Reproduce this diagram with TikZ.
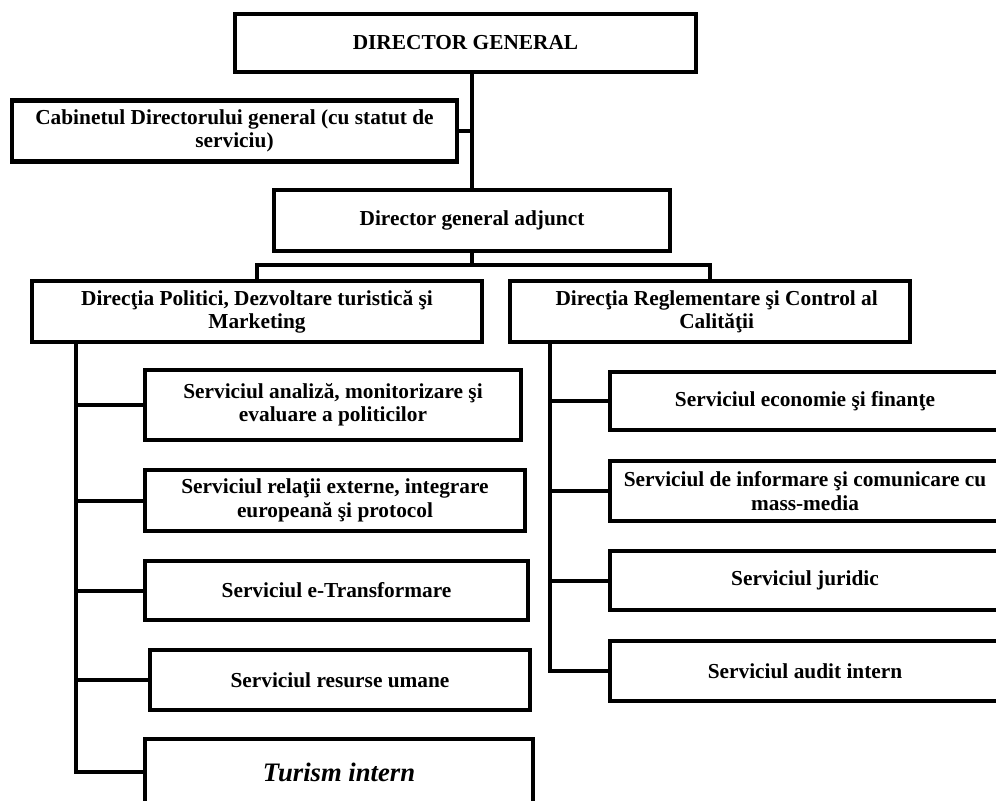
\documentclass[tikz,border=0pt]{standalone}
\usepackage{fontspec}
\setmainfont{Liberation Serif}
\begin{document}
\begin{tikzpicture}[
  x=0.75pt, y=-0.75pt,
  orgbox/.style={draw, line width=3.4pt, fill=white, align=center,
    font=\fontsize{16}{17.5}\selectfont\bfseries, inner sep=0pt},
  boxsize/.style 2 args={minimum width=#1*0.75pt, minimum height=#2*0.75pt},
  link/.style={line width=3pt}
]
\useasboundingbox (0,0) rectangle (996,800);
\fill[white] (0,0) rectangle (996,800);
\clip (0,0) rectangle (996,800);

% top management
\node[orgbox, boxsize={461}{58}] (dg) at (465.5,43) {DIRECTOR GENERAL};
\node[orgbox, boxsize={445}{61}] (cab) at (234.5,131)
  {Cabinetul Directorului general (cu statut de\\serviciu)};
\node[orgbox, boxsize={396}{61}] (adj) at (472,220.5) {Director general adjunct};

% directorates
\node[orgbox, boxsize={450}{61}] (dirL) at (257,311.5)
  {Direcţia Politici, Dezvoltare turistică şi\\Marketing};
\node[orgbox, boxsize={400}{61}] (dirR) at (710,311.5)
  {\hspace*{10pt}Direcţia Reglementare şi Control al\\\hspace*{10pt}Calităţii};

% services under the left directorate
\node[orgbox, boxsize={376}{70}] (s1) at (333,405)
  {Serviciul analiză, monitorizare şi\\evaluare a politicilor};
\node[orgbox, boxsize={380}{61}] (s2) at (335,500.5)
  {Serviciul relaţii externe, integrare\\europeană şi protocol};
\node[orgbox, boxsize={383}{59}] (s3) at (336.5,590.5) {Serviciul e-Transformare};
\node[orgbox, boxsize={380}{60}] (s4) at (340,680) {Serviciul resurse umane};
\node[orgbox, boxsize={388}{66}, font=\fontsize{20}{22}\selectfont\bfseries\itshape]
  (s5) at (339,772) {Turism intern};

% services under the right directorate
\node[orgbox, boxsize={390}{58}] (r1) at (805,401) {Serviciul economie şi finanţe};
\node[orgbox, boxsize={390}{60}] (r2) at (805,491)
  {Serviciul de informare şi comunicare cu\\mass-media};
\node[orgbox, boxsize={390}{59}] (r3) at (805,580.5) {Serviciul juridic};
\node[orgbox, boxsize={390}{60}] (r4) at (805,671) {Serviciul audit intern};

% connectors
\coordinate (bar) at (472,265);
\coordinate (trunkL) at (76,0);
\coordinate (trunkR) at (550,0);

\draw[link] (adj.north |- dg.south) -- (adj.north);
\draw[link] (cab.east) -- (cab.east -| adj.north);
\draw[link] (adj.south) -- (bar);
\draw[link] (dirL.north) |- (bar) -| (dirR.north);

\draw[link] (dirL.south -| trunkL) -- (trunkL |- s5.west) -- (s5.west);
\foreach \s in {s1,s2,s3,s4}
  \draw[link] (trunkL |- \s.west) -- (\s.west);

\draw[link] (dirR.south -| trunkR) -- (trunkR |- r4.west) -- (r4.west);
\foreach \s in {r1,r2,r3}
  \draw[link] (trunkR |- \s.west) -- (\s.west);
\end{tikzpicture}
\end{document}
